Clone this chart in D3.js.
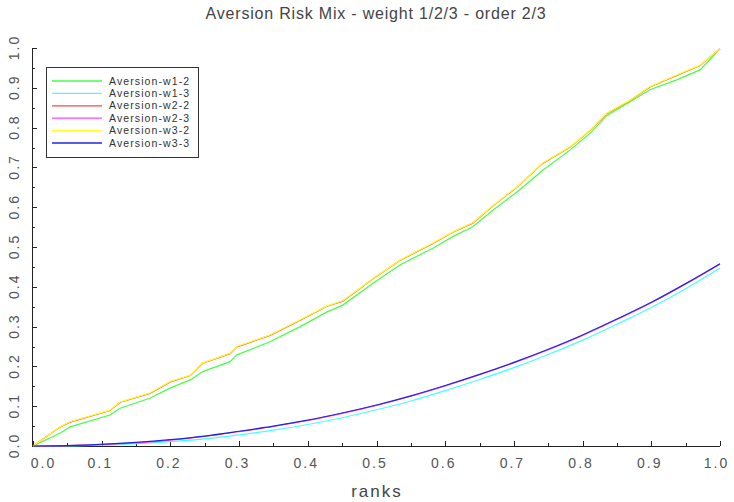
<!DOCTYPE html>
<html>
<head>
<meta charset="utf-8">
<script src="https://cdn.jsdelivr.net/npm/d3@7"></script>
<style>
  body { margin: 0; background: #fff; }
  svg { display: block; font-family: "Liberation Sans", Arial, sans-serif; }
  .axis path, .axis line { stroke: #222; shape-rendering: crispEdges; }
  .axis text { fill: #555; font-size: 14px; letter-spacing: 2px; }
</style>
</head>
<body>
<div id="chart"></div>
<script>
// ranks where the upper (order 2) curves were read
var ranks2 = [0, 0.039, 0.054, 0.112, 0.127, 0.17, 0.2, 0.229, 0.247, 0.287, 0.297, 0.345, 0.389, 0.428, 0.451,
              0.495, 0.534, 0.582, 0.611, 0.64, 0.67, 0.705, 0.742, 0.782, 0.811, 0.835, 0.869, 0.898, 0.937, 0.971, 1.0];
var w1_2 = [0, 0.032, 0.048, 0.078, 0.095, 0.12, 0.146, 0.166, 0.187, 0.212, 0.229, 0.262, 0.30, 0.337, 0.354,
            0.409, 0.455, 0.497, 0.526, 0.551, 0.593, 0.639, 0.693, 0.744, 0.786, 0.83, 0.865, 0.895, 0.92, 0.945, 0.998];
var w2_2 = [0, 0.047, 0.060, 0.089, 0.110, 0.132, 0.161, 0.177, 0.208, 0.232, 0.249, 0.278, 0.316, 0.351, 0.364,
            0.420, 0.466, 0.509, 0.537, 0.560, 0.604, 0.651, 0.710, 0.751, 0.793, 0.835, 0.868, 0.902, 0.931, 0.956, 0.998];
var w3_2 = [0, 0.048, 0.061, 0.09, 0.111, 0.133, 0.162, 0.178, 0.209, 0.233, 0.25, 0.279, 0.317, 0.352, 0.365,
            0.421, 0.467, 0.51, 0.538, 0.561, 0.605, 0.652, 0.711, 0.752, 0.794, 0.836, 0.869, 0.903, 0.932, 0.957, 0.998];

// ranks for the lower (order 3) curves
var ranks3 = [0, 0.05, 0.1, 0.15, 0.2, 0.25, 0.3, 0.35, 0.4, 0.45, 0.5, 0.55, 0.6, 0.65, 0.7, 0.75, 0.8, 0.85, 0.9, 0.95, 1.0];
var w1_3 = [0, 0, 0.002, 0.006, 0.011, 0.018, 0.028, 0.040, 0.054, 0.071, 0.091, 0.113, 0.139, 0.167, 0.197, 0.230, 0.266, 0.306, 0.348, 0.395, 0.447];
var w2_3 = [0, 0.001, 0.004, 0.008, 0.015, 0.024, 0.036, 0.049, 0.064, 0.082, 0.102, 0.125, 0.151, 0.179, 0.209, 0.242, 0.278, 0.318, 0.360, 0.407, 0.457];
var w3_3 = [0, 0.001, 0.004, 0.009, 0.016, 0.025, 0.037, 0.050, 0.065, 0.083, 0.103, 0.126, 0.152, 0.180, 0.210, 0.243, 0.279, 0.319, 0.361, 0.408, 0.458];

var names = ["Aversion-w1-2", "Aversion-w1-3", "Aversion-w2-2", "Aversion-w2-3", "Aversion-w3-2", "Aversion-w3-3"];
var colors = ["#44ff44", "#44ffff", "#ff4444", "#ff44ff", "#ffff22", "#2323e6"];
var series = [
    {x: ranks2, y: w1_2, smooth: false},
    {x: ranks3, y: w1_3, smooth: true},
    {x: ranks2, y: w2_2, smooth: false},
    {x: ranks3, y: w2_3, smooth: true},
    {x: ranks2, y: w3_2, smooth: false},
    {x: ranks3, y: w3_3, smooth: true}
];

var xTicks = d3.range(0, 1.0001, 0.05);
var yTicks = d3.range(0, 1.0001, 0.05);

var W = 734, H = 502;
var x = d3.scaleLinear().domain([0, 1]).range([33, 720]);
var y = d3.scaleLinear().domain([0, 1]).range([446, 48]);

var svg = d3.select("#chart").append("svg")
    .attr("width", W)
    .attr("height", H);

function isMajor(v) { return Math.abs(v * 10 - Math.round(v * 10)) < 1e-6; }

// x axis
var gx = svg.append("g")
    .attr("class", "axis")
    .attr("transform", "translate(0," + y(0) + ")")
    .call(d3.axisBottom(x).tickValues(xTicks).tickSizeOuter(0).tickSizeInner(-5).tickPadding(12)
        .tickFormat(function(d) { return isMajor(d) ? d3.format(".1f")(d) : ""; }));
gx.select(".domain").attr("d", "M" + (x(0) - 1) + ",0.5H" + x(1));
gx.selectAll(".tick line").attr("y2", function(d) { return isMajor(d) ? -5 : -3; });
gx.selectAll(".tick text")
    .attr("x", function(d) { return d === 0 ? 10 : (d > 0.99 ? -4 : -2); });

// y axis, labels rotated
var gy = svg.append("g")
    .attr("class", "axis")
    .attr("transform", "translate(" + (x(0) - 1) + ",0)")
    .call(d3.axisLeft(y).tickValues(yTicks).tickSizeOuter(0).tickSizeInner(-5)
        .tickFormat(function(d) { return isMajor(d) ? d3.format(".1f")(d) : ""; }));
gy.select(".domain").attr("d", "M0.5," + y(0) + "V" + y(1));
gy.selectAll(".tick line").attr("x2", function(d) { return isMajor(d) ? 5 : 3; });
gy.selectAll(".tick text")
    .attr("transform", "rotate(-90)")
    .attr("text-anchor", "middle")
    .attr("x", 1)
    .attr("y", -13)
    .attr("dy", "0");

// curves
var line = d3.line()
    .x(function(d) { return x(d[0]); })
    .y(function(d) { return y(d[1]); });
var smoothLine = d3.line()
    .curve(d3.curveMonotoneX)
    .x(function(d) { return x(d[0]); })
    .y(function(d) { return y(d[1]); });

series.forEach(function(s, i) {
    var pts = s.x.map(function(v, j) { return [v, s.y[j]]; });
    svg.append("path")
        .datum(pts)
        .attr("fill", "none")
        .attr("stroke", colors[i])
        .attr("stroke-width", 1.2)
        .attr("d", s.smooth ? smoothLine : line);
});

// title and axis label
svg.append("text")
    .attr("x", 376)
    .attr("y", 19)
    .attr("text-anchor", "middle")
    .attr("fill", "#444")
    .style("font-size", "16px")
    .style("letter-spacing", "0.8px")
    .text("Aversion Risk Mix - weight 1/2/3 - order 2/3");

svg.append("text")
    .attr("x", 377)
    .attr("y", 497)
    .attr("text-anchor", "middle")
    .attr("fill", "#444")
    .style("font-size", "17px")
    .style("letter-spacing", "2px")
    .text("ranks");

// legend
var lg = svg.append("g").attr("transform", "translate(46,67)");
lg.append("rect")
    .attr("x", 0.5).attr("y", 0.5)
    .attr("width", 152).attr("height", 90)
    .attr("fill", "#fff")
    .attr("stroke", "#333")
    .attr("shape-rendering", "crispEdges");

names.forEach(function(name, i) {
    var ly = 14 + i * 12.4;
    lg.append("line")
        .attr("x1", 6).attr("x2", 56)
        .attr("y1", ly).attr("y2", ly)
        .attr("stroke", colors[i])
        .attr("stroke-width", 1.3);
    lg.append("text")
        .attr("x", 63)
        .attr("y", ly + 3.5)
        .attr("fill", "#333")
        .style("font-size", "10.5px")
        .style("letter-spacing", "1.1px")
        .text(name);
});
</script>
</body>
</html>
